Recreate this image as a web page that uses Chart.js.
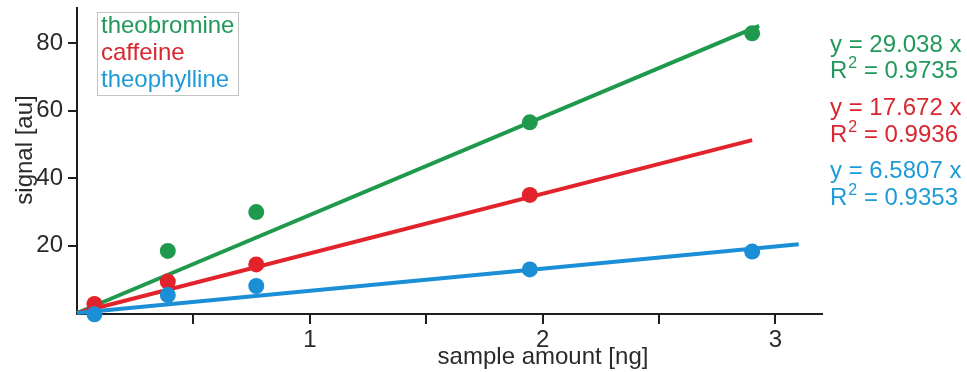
<!DOCTYPE html>
<html>
<head>
<meta charset="utf-8">
<title>Calibration – methylxanthines</title>
<script src="https://cdn.jsdelivr.net/npm/chart.js@4.4.1/dist/chart.umd.min.js"></script>
<style>
  html, body { margin: 0; padding: 0; background: #fff; }
  #wrap { width: 967px; height: 372px; position: relative; }
</style>
</head>
<body>
<div id="wrap"><canvas id="calib"></canvas></div>
<script>
// ── data ──────────────────────────────────────────────────
const compounds    = ['theobromine', 'caffeine', 'theophylline'];
const sampleAmount = [0.075, 0.39, 0.77, 1.945, 2.90];        // ng
const theobromine  = [null, 18.4, 29.9, 56.5, 82.9];
const caffeine     = [2.7, 9.3, 14.4, 35.0, null];
const theophylline = [-0.4, 5.3, 8.0, 12.9, 18.2];
const slopes       = [29.038, 17.672, 6.5807];                 // y = a·x
const rSquared     = [0.9735, 0.9936, 0.9353];
const fitEnd       = [2.93, 2.90, 3.10];                       // where each fit line stops
const xTickValues  = [0.5, 1, 1.5, 2, 2.5, 3];
const yTickValues  = [20, 40, 60, 80];

// ── styling ───────────────────────────────────────────────
const colors = {
  lines: ['#1f9a4d', '#e2232b', '#1b8fd6'],
  text:  ['#22995a', '#d8272f', '#1f9bd7'],
  axis:  '#1e1e1e',
  label: '#2a2a2a'
};
const FONT = "'Liberation Sans', Arial, sans-serif";
const series = [theobromine, caffeine, theophylline];

const datasets = [];
series.forEach((vals, i) => {
  const order = 3 - i;   // theobromine at the back, theophylline on top
  datasets.push({
    type: 'line',
    label: compounds[i] + ' fit',
    data: [{ x: 0, y: 0 }, { x: fitEnd[i], y: slopes[i] * fitEnd[i] }],
    borderColor: colors.lines[i],
    borderWidth: 4,
    pointRadius: 0,
    fill: false,
    clip: false,
    order
  });
  datasets.push({
    type: 'scatter',
    label: compounds[i],
    data: sampleAmount.map((x, k) => ({ x, y: vals[k] })).filter(p => p.y !== null),
    backgroundColor: colors.lines[i],
    borderWidth: 0,
    pointRadius: 8,
    clip: false,
    order
  });
});

// legend box, regression equations and axis titles
const annotations = {
  id: 'annotations',
  afterDraw(chart) {
    const ctx = chart.ctx;
    ctx.save();

    // legend box (upper left)
    ctx.strokeStyle = '#c4c4c4';
    ctx.lineWidth = 1;
    ctx.strokeRect(97.5, 12.5, 141, 83);
    ctx.font = `24px ${FONT}`;
    ctx.textBaseline = 'middle';
    ctx.textAlign = 'left';
    compounds.forEach((name, i) => {
      ctx.fillStyle = colors.text[i];
      ctx.fillText(name, 101, 26 + i * 27);
    });

    // equations (right side)
    const eqY = [[45, 71], [108, 135], [171, 198]];
    compounds.forEach((_, i) => {
      ctx.fillStyle = colors.text[i];
      ctx.font = `24px ${FONT}`;
      ctx.fillText(`y = ${slopes[i]} x`, 830, eqY[i][0]);
      let x = 830;
      ctx.fillText('R', x, eqY[i][1]);
      x += ctx.measureText('R').width;
      ctx.font = `16px ${FONT}`;
      ctx.fillText('2', x + 1, eqY[i][1] - 7);
      x += ctx.measureText('2').width + 1;
      ctx.font = `24px ${FONT}`;
      ctx.fillText(` = ${rSquared[i]}`, x, eqY[i][1]);
    });

    // axis titles
    ctx.fillStyle = colors.label;
    ctx.font = `24px ${FONT}`;
    ctx.textAlign = 'center';
    ctx.fillText('sample amount [ng]', 543, 357);
    ctx.translate(25, 150);
    ctx.rotate(-Math.PI / 2);
    ctx.fillText('signal [au]', 0, 0);

    ctx.restore();
  }
};

new Chart(document.getElementById('calib'), {
  data: { datasets },
  options: {
    responsive: true,
    maintainAspectRatio: false,
    animation: false,
    layout: { padding: { top: 8, right: 145, left: 0, bottom: 0 } },
    plugins: { legend: { display: false }, tooltip: { enabled: false } },
    scales: {
      x: {
        type: 'linear',
        min: 0,
        max: 3.2,
        afterBuildTicks: s => { s.ticks = xTickValues.map(v => ({ value: v })); },
        afterFit: s => { s.height = 58; s.paddingLeft = 0; s.paddingRight = 0; },
        border: { display: true, color: colors.axis, width: 2 },
        grid: { drawOnChartArea: false, drawTicks: true, tickLength: 10, color: colors.axis, lineWidth: 2 },
        ticks: {
          color: colors.label,
          font: { family: FONT, size: 24 },
          padding: 2,
          maxRotation: 0,
          autoSkip: false,
          callback: v => Number.isInteger(v) ? String(v) : ''
        }
      },
      y: {
        type: 'linear',
        min: -0.3,
        max: 90.4,
        afterBuildTicks: s => { s.ticks = yTickValues.map(v => ({ value: v })); },
        afterFit: s => { s.width = 77; s.paddingTop = 0; s.paddingBottom = 0; },
        border: { display: true, color: colors.axis, width: 2 },
        grid: { drawOnChartArea: false, drawTicks: true, tickLength: 9, color: colors.axis, lineWidth: 2 },
        ticks: {
          color: colors.label,
          font: { family: FONT, size: 24 },
          padding: 5
        }
      }
    }
  },
  plugins: [annotations]
});
</script>
</body>
</html>
